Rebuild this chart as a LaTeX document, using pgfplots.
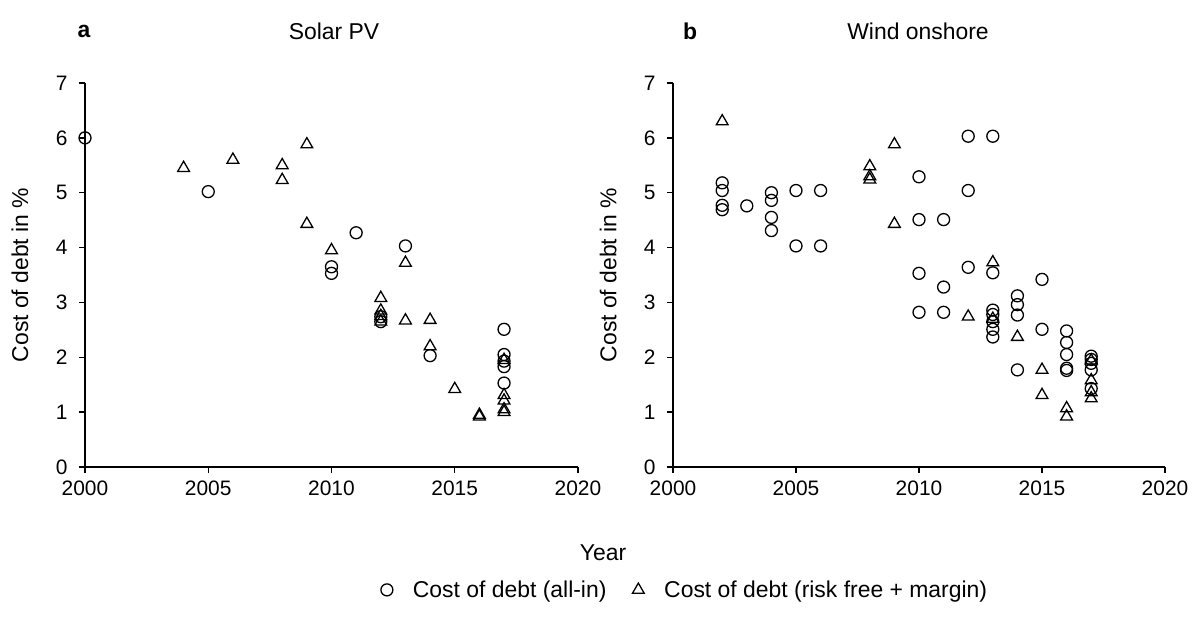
\documentclass[border=0pt]{standalone}
\usepackage{fontspec}
\setmainfont{Liberation Sans}
\usepackage{pgfplots}
\usepackage{pgfplotstable}
\pgfplotsset{compat=1.18}

\pgfplotstableread{
x y
2000 6.00
2005 5.02
2010 3.65
2010 3.53
2011 4.27
2012 2.74
2012 2.65
2013 4.03
2014 2.03
2017 2.51
2017 2.05
2017 1.93
2017 1.83
2017 1.53
}\solarA

\pgfplotstableread{
x y
2004 5.45
2006 5.60
2008 5.50
2008 5.23
2009 5.88
2009 4.43
2010 3.95
2012 3.08
2012 2.85
2012 2.75
2012 2.65
2013 3.72
2013 2.67
2014 2.68
2014 2.20
2015 1.42
2016 0.95
2016 0.92
2017 1.95
2017 1.31
2017 1.21
2017 1.05
2017 1.00
}\solarB

\pgfplotstableread{
x y
2002 5.18
2002 5.04
2002 4.77
2002 4.69
2003 4.76
2004 5.00
2004 4.86
2004 4.55
2004 4.31
2005 5.04
2005 4.03
2006 5.04
2006 4.03
2010 5.29
2010 4.51
2010 3.53
2010 2.82
2011 4.51
2011 3.28
2011 2.82
2012 6.03
2012 5.04
2012 3.64
2013 6.03
2013 3.54
2013 2.86
2013 2.78
2013 2.65
2013 2.51
2013 2.37
2014 3.12
2014 2.96
2014 2.77
2014 1.77
2015 3.42
2015 2.51
2016 2.48
2016 2.27
2016 2.05
2016 1.80
2016 1.76
2017 2.02
2017 1.96
2017 1.89
2017 1.77
2017 1.43
}\windA

\pgfplotstableread{
x y
2002 6.30
2008 5.48
2008 5.30
2008 5.24
2009 5.88
2009 4.43
2012 2.74
2013 3.73
2013 2.70
2014 2.37
2015 1.77
2015 1.31
2016 1.07
2016 0.92
2017 1.94
2017 1.58
2017 1.36
2017 1.25
}\windB

\pgfplotsset{
  panel/.style={
    scale only axis,
    height=384bp,
    xmin=2000, xmax=2020, ymin=0, ymax=7,
    axis x line*=bottom, axis y line*=left,
    xtick={2000,2005,2010,2015,2020},
    ytick={0,1,2,3,4,5,6,7},
    tick align=outside,
    major tick length=6bp,
    axis line style={line width=1.4bp, black},
    every tick/.style={line width=1.4bp, black},
    /pgf/number format/1000 sep={},
    /pgf/number format/assume math mode=true,
    tick label style={font=\fontsize{21}{24}\selectfont},
    yticklabel style={xshift=-8bp},
    xticklabel style={yshift=-4bp},
    ylabel={Cost of debt in \%},
    ylabel style={at={(axis description cs:-0.132,0.5)}, anchor=center, font=\fontsize{23}{26}\selectfont},
    clip=false,
  },
  circ/.style={only marks, mark=o, mark size=6bp, mark options={line width=1.3bp, black, fill=none}},
  tri/.style={only marks, mark=triangle, mark size=6.8bp, mark options={line width=1.3bp, black, fill=none}},
}

\begin{document}
\begin{tikzpicture}
\useasboundingbox (0,0) rectangle (1203bp,617bp);

\begin{axis}[panel, width=493bp, at={(85bp,150bp)}, anchor=south west,
  legend columns=2,
  legend style={draw=none, at={(axis description cs:1.217,-0.320)}, anchor=center,
    font=\fontsize{23}{26}\selectfont,
    /tikz/every odd column/.append style={column sep=18bp},
    /tikz/every even column/.append style={column sep=24bp}},
  ]
\addplot[circ] table[x=x,y=y] {\solarA};
\addlegendentry{Cost of debt (all-in)}
\addplot[tri] table[x=x,y=y] {\solarB};
\addlegendentry{Cost of debt (risk free + margin)}
\end{axis}

\begin{axis}[panel, width=492bp, at={(673bp,150bp)}, anchor=south west]
\addplot[circ] table[x=x,y=y] {\windA};
\addplot[tri] table[x=x,y=y] {\windB};
\end{axis}

\node[font=\fontsize{23}{26}\selectfont\bfseries] at (84bp,586bp) {a};
\node[font=\fontsize{23}{26}\selectfont] at (334bp,586bp) {Solar PV};
\node[font=\fontsize{23}{26}\selectfont\bfseries] at (690bp,586bp) {b};
\node[font=\fontsize{23}{26}\selectfont] at (918bp,586bp) {Wind onshore};
\node[font=\fontsize{23}{26}\selectfont] at (603bp,64bp) {Year};
\end{tikzpicture}
\end{document}
